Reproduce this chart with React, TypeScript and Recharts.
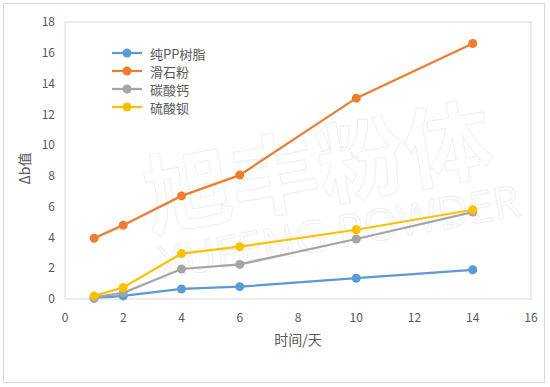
import React from 'react';
import { LineChart, Line, XAxis, YAxis, ReferenceLine, Customized } from 'recharts';

const days = [1, 2, 4, 6, 10, 14];
const purePP = [0.05, 0.2, 0.65, 0.8, 1.35, 1.9];
const talc = [3.95, 4.8, 6.7, 8.05, 13.05, 16.6];
const calcium = [0.1, 0.4, 1.95, 2.25, 3.9, 5.65];
const barium = [0.2, 0.75, 2.95, 3.4, 4.5, 5.8];

const xTicks = [0, 2, 4, 6, 8, 10, 12, 14, 16];
const yTicks = [0, 2, 4, 6, 8, 10, 12, 14, 16, 18];

const seriesList = [
  { key: 'pp', name: '纯PP树脂', color: '#5B9BD5', values: purePP },
  { key: 'talc', name: '滑石粉', color: '#ED7D31', values: talc },
  { key: 'caco3', name: '碳酸钙', color: '#A5A5A5', values: calcium },
  { key: 'baso4', name: '硫酸钡', color: '#FFC000', values: barium },
];

const data = days.map((d, i) => {
  const row: Record<string, number> = { day: d };
  seriesList.forEach((s) => { row[s.key] = s.values[i]; });
  return row;
});

const font = '"Noto Sans CJK SC", "Open Sans", sans-serif';
const axisGray = '#D9D9D9';
const textGray = '#595959';

// legend sits inside the plot area, drawn as an overlay so it doesn't eat chart space
const LegendBox = () => (
  <div style={{ position: 'absolute', left: 110, top: 44, fontFamily: font, fontSize: 13, color: textGray }}>
    {seriesList.map((s) => (
      <div key={s.key} style={{ display: 'flex', alignItems: 'center', height: 18 }}>
        <svg width={34} height={12} style={{ marginRight: 6 }}>
          <line x1={2} y1={6} x2={32} y2={6} stroke={s.color} strokeWidth={2.25} />
          <circle cx={17} cy={6} r={4.5} fill={s.color} />
        </svg>
        <span>{s.name}</span>
      </div>
    ))}
  </div>
);

const Watermark = () => (
  <g transform="rotate(-10 320 180)" fill="none" stroke="#EFEFEF" strokeWidth={1} fontFamily={font}>
    <text x={320} y={200} fontSize={88} fontWeight="bold" textAnchor="middle">旭丰粉体</text>
    <text x={330} y={250} fontSize={44} textAnchor="middle" fontFamily="Open Sans, sans-serif">XUFENG POWDER</text>
  </g>
);

export default function App() {
  return (
    <div style={{ position: 'absolute', left: 0, top: 0, width: 550, height: 387, background: '#fff' }}>
      <div style={{ position: 'absolute', left: 3, top: 3, width: 542, height: 380, boxSizing: 'border-box', border: '1px solid #D9D9D9' }} />
      <div style={{ position: 'absolute', left: 0, top: 0 }}>
        <LineChart width={550} height={387} data={data} margin={{ top: 22, right: 19, left: 25, bottom: 38 }}>
          <Customized component={Watermark} />
          <XAxis
            dataKey="day"
            type="number"
            domain={[0, 16]}
            ticks={xTicks}
            stroke={axisGray}
            tickLine={false}
            tickMargin={8}
            height={50}
            tick={{ fill: textGray, fontSize: 12, fontFamily: font }}
            label={{ value: '时间/天', position: 'insideBottom', offset: 4, fill: textGray, fontSize: 14, fontFamily: font }}
          />
          <YAxis
            type="number"
            domain={[0, 18]}
            ticks={yTicks}
            stroke={axisGray}
            tickLine={false}
            tickMargin={4}
            width={40}
            tick={{ fill: textGray, fontSize: 12, fontFamily: font }}
            label={{ value: 'Δb值', angle: -90, position: 'insideLeft', offset: 0, dy: 8, fill: textGray, fontSize: 14, fontFamily: font, style: { textAnchor: 'middle' } }}
          />
          <ReferenceLine y={18} stroke={axisGray} />
          <ReferenceLine x={16} stroke={axisGray} />
          {seriesList.map((s) => (
            <Line
              key={s.key}
              dataKey={s.key}
              name={s.name}
              stroke={s.color}
              strokeWidth={2.25}
              dot={{ r: 4.5, fill: s.color, stroke: s.color, strokeWidth: 0 }}
              isAnimationActive={false}
            />
          ))}
        </LineChart>
        <LegendBox />
      </div>
    </div>
  );
}
